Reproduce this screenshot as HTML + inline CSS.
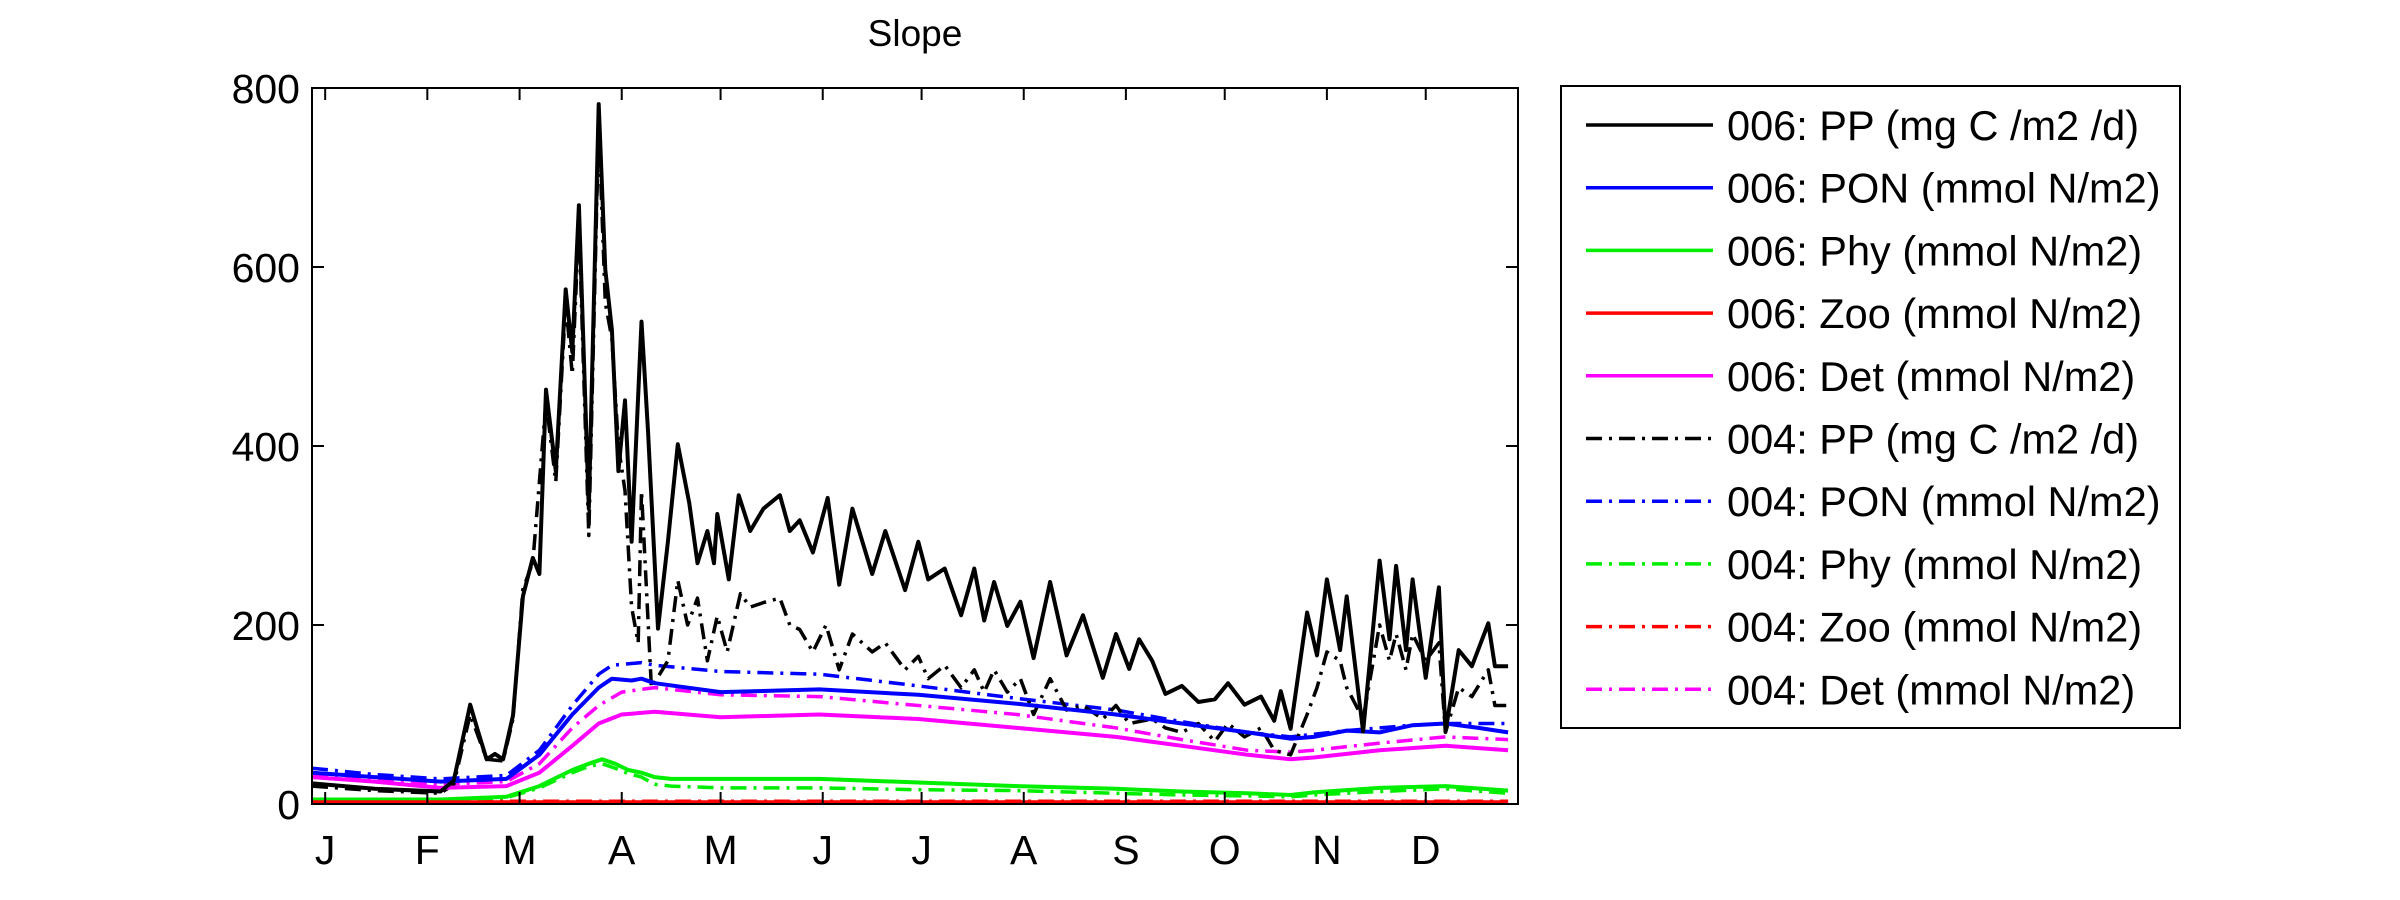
<!DOCTYPE html>
<html><head><meta charset="utf-8"><style>
html,body{margin:0;padding:0;background:#fff;}
svg{display:block;font-family:"Liberation Sans",Arial,sans-serif;}
</style></head><body>
<svg id="chart" width="2400" height="900" viewBox="0 0 2400 900">
<rect width="2400" height="900" fill="#fff"/>
<text x="915" y="46" font-size="37" text-anchor="middle">Slope</text>
<g id="plot"></g>
<g id="axes"></g>
<g id="legend"></g>
</svg>
<script>
const monthLabels = ["J","F","M","A","M","J","J","A","S","O","N","D"];
const monthStartDays = [0,31,59,90,120,151,181,212,243,273,304,334];
const yTicks = [0,200,400,600,800];

const pp006Days = [-4,15,35,39,44,46.5,49,51.5,54,57,60,63,65,67,70,73,75,77,80,83,85,87,89,91,93,96,98,101,104,107,110.5,113,116,118,119,122.5,125.5,129,133,138,141,144,148,152.5,156,160,166,170,176,180,183,188,193,197,200,203,207,211,215,220,225,230,236,240,244,247,251,255,260,265,270,274,279,284,288,290,293,298,301,304,308,310,315,320,323,325,328,330,334,338,340,344,348,353,355,359];
const pp006Vals = [23,17,14,26,111,80,50,56,50,99,232,275,257,463,372,575,505,669,330,782,597,530,372,451,293,539,415,196,293,402,336,269,305,269,324,251,345,305,330,345,305,317,281,342,245,330,257,305,239,293,251,263,211,263,205,248,199,226,163,248,166,211,141,190,151,184,160,123,132,114,117,135,111,120,93,126,84,214,166,251,172,232,81,272,184,266,172,251,141,242,81,172,154,202,154,154];

const pp004Days = [-4,15,35,39,44,49,54,57,60,63,67,70,73,75,77,80,83,85,87,89,91,93,95,96,99,104,107,110,113,116,119,122,126,129,133,138,141,144,148,152,156,160,166,170,176,180,183,188,193,197,200,203,207,211,215,220,225,230,236,240,244,251,255,260,265,270,274,279,284,288,293,298,301,304,308,310,315,320,323,325,328,330,334,338,340,344,348,353,355,359];
const pp004Vals = [20,15,12,22,100,50,48,95,240,270,450,360,560,480,650,300,760,560,520,400,350,220,180,350,130,160,250,200,230,160,210,170,235,220,225,230,200,195,170,200,150,190,170,180,150,165,140,155,130,150,125,150,125,140,100,140,105,110,95,110,90,95,85,80,90,70,90,75,85,60,55,100,130,170,160,130,95,200,160,190,150,190,160,180,80,130,120,150,110,110];

const ponDays = [-4,15,35,55,65,75,83,87,93,96,100,120,150,180,210,240,260,280,293,300,310,320,330,340,350,359];
const pon006Vals = [35,30,25,28,55,100,130,140,138,140,135,125,128,122,112,100,90,80,73,75,82,80,88,90,85,80];
const pon004Vals = [40,33,28,32,60,110,145,155,157,158,155,148,145,132,118,105,92,80,75,78,82,85,88,90,90,90];

const detDays = [-4,15,35,55,65,75,83,90,100,120,150,180,210,240,260,280,293,300,320,340,359];
const det006Vals = [30,25,18,20,35,65,90,100,103,97,100,95,85,75,65,55,50,52,60,65,60];
const det004Vals = [32,27,22,25,45,85,110,125,130,122,120,110,100,85,72,60,58,60,68,75,72];

const phyDays = [-4,35,55,65,75,80,84,88,92,96,100,105,120,150,180,210,240,260,280,293,300,320,340,359];
const phy006Vals = [5,5,8,20,38,45,50,45,38,35,30,28,28,28,24,20,17,14,12,10,13,18,20,15];
const phy004Vals = [4,4,7,18,35,42,45,40,34,30,22,20,18,18,16,15,12,10,9,8,10,14,17,12];

const zooDays = [-4,359];
const zoo006Vals = [2,2];
const zoo004Vals = [3,3];

const X0=312, X1=1518, Y0=804, Y1=88;
const dMin=-4, dMax=362;
function xs(d){return X0+(d-dMin)/(dMax-dMin)*(X1-X0);}
function ys(v){return Y0-(v/800)*(Y0-Y1);}
const NS="http://www.w3.org/2000/svg";
const DASH="16 7 3 7";

function drawSeries(days, vals, color, dashed, name){
  const p=document.createElementNS(NS,"polyline");
  p.setAttribute("points", days.map((d,i)=>xs(d).toFixed(1)+","+ys(vals[i]).toFixed(1)).join(" "));
  p.setAttribute("fill","none");
  p.setAttribute("stroke",color);
  p.setAttribute("stroke-width",dashed?3.5:4);
  p.setAttribute("stroke-linejoin","round");
  if(dashed) p.setAttribute("stroke-dasharray",DASH);
  
  
  document.getElementById("plot").appendChild(p);
}
drawSeries(zooDays,zoo004Vals,"#ff0000",true,"series-004-zoo");
drawSeries(phyDays,phy004Vals,"#00ee00",true,"series-004-phy");
drawSeries(detDays,det004Vals,"#ff00ff",true,"series-004-det");
drawSeries(ponDays,pon004Vals,"#0000ff",true,"series-004-pon");
drawSeries(pp004Days,pp004Vals,"#000000",true,"series-004-pp");
drawSeries(phyDays,phy006Vals,"#00ee00",false,"series-006-phy");
drawSeries(detDays,det006Vals,"#ff00ff",false,"series-006-det");
drawSeries(ponDays,pon006Vals,"#0000ff",false,"series-006-pon");
drawSeries(pp006Days,pp006Vals,"#000000",false,"series-006-pp");
drawSeries(zooDays,zoo006Vals,"#ff0000",false,"series-006-zoo");

const ax=document.getElementById("axes");
function el(tag,attrs){const e=document.createElementNS(NS,tag);for(const k in attrs)e.setAttribute(k,attrs[k]);ax.appendChild(e);return e;}
const frame=el("rect",{x:X0,y:Y1,width:X1-X0,height:Y0-Y1,fill:"none",stroke:"#000","stroke-width":2});


yTicks.forEach(v=>{
  const y=ys(v);
  const t1=el("line",{x1:X0,x2:X0+12,y1:y,y2:y,stroke:"#000","stroke-width":2});
  
  
  const t2=el("line",{x1:X1-12,x2:X1,y1:y,y2:y,stroke:"#000","stroke-width":2});
  
  
  const lb=el("text",{x:X0-12,y:y+15,"font-size":41,"text-anchor":"end"});
  lb.textContent=v;
  
  
});
monthStartDays.forEach((d,i)=>{
  const x=xs(d);
  const t1=el("line",{x1:x,x2:x,y1:Y0,y2:Y0-12,stroke:"#000","stroke-width":2});
  
  
  const t2=el("line",{x1:x,x2:x,y1:Y1,y2:Y1+12,stroke:"#000","stroke-width":2});
  
  
  const lb=el("text",{x:x,y:864,"font-size":41,"text-anchor":"middle"});
  lb.textContent=monthLabels[i];
  
  
});

const legendLabels=["006: PP (mg C /m2 /d)","006: PON (mmol N/m2)","006: Phy (mmol N/m2)","006: Zoo (mmol N/m2)","006: Det (mmol N/m2)","004: PP (mg C /m2 /d)","004: PON (mmol N/m2)","004: Phy (mmol N/m2)","004: Zoo (mmol N/m2)","004: Det (mmol N/m2)"];
const legendColors=["#000","#0000ff","#00ee00","#ff0000","#ff00ff","#000","#0000ff","#00ee00","#ff0000","#ff00ff"];
const lg=document.getElementById("legend");
const box=document.createElementNS(NS,"rect");
box.setAttribute("x",1561);box.setAttribute("y",86);box.setAttribute("width",619);box.setAttribute("height",642);
box.setAttribute("fill","#fff");box.setAttribute("stroke","#000");box.setAttribute("stroke-width",2);


lg.appendChild(box);
legendLabels.forEach((t,i)=>{
  const y=125+i*62.7;
  const l=document.createElementNS(NS,"line");
  l.setAttribute("x1",1586);l.setAttribute("x2",1713);l.setAttribute("y1",y);l.setAttribute("y2",y);
  l.setAttribute("stroke",legendColors[i]);l.setAttribute("stroke-width",3.5);
  if(i>=5) l.setAttribute("stroke-dasharray",DASH);
  
  
  lg.appendChild(l);
  const tx=document.createElementNS(NS,"text");
  tx.setAttribute("x",1727);tx.setAttribute("y",y+15);tx.setAttribute("font-size",41.5);
  tx.textContent=t;
  
  
  lg.appendChild(tx);
});
</script>
</body></html>
